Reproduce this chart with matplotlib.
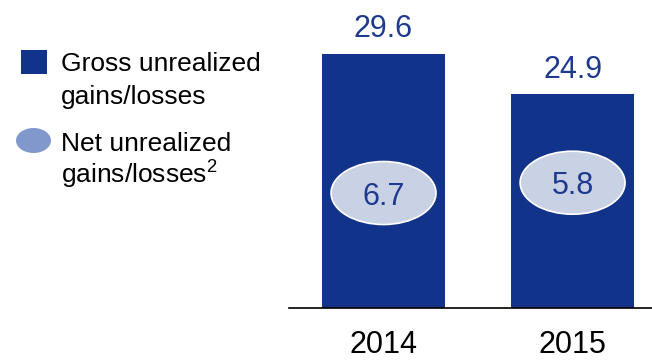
import matplotlib
matplotlib.use("Agg")
import matplotlib.pyplot as plt
from matplotlib.patches import Ellipse, Rectangle

plt.rcParams['font.family'] = ['Liberation Sans', 'DejaVu Sans']
plt.rcParams['mathtext.default'] = 'regular'

years = ['2014', '2015']
gross = [29.6, 24.9]
net = [6.7, 5.8]

bar_color = '#12338A'
text_blue = '#1D3A8F'
badge_fill = '#C9D1E4'
legend_oval = '#8098CC'

W, H = 652, 361
fig = plt.figure(figsize=(W / 100, H / 100), dpi=100)

# plot area: axis line at y=308 px, spans x=289..652 px
ax_bottom = 308
ax = fig.add_axes([289 / W, (H - ax_bottom) / H, (W - 289) / W, ax_bottom / H])
px_per_unit = (ax_bottom - 54) / gross[0]
ax.set_ylim(0, ax_bottom / px_per_unit)
ax.set_xlim(-0.5, 1.42)

x = list(range(len(years)))
ax.bar(x, gross, width=0.65, color=bar_color, edgecolor='none')

for xi, g in zip(x, gross):
    ax.annotate(f'{g:.1f}', (xi, g), xytext=(0, 12), textcoords='offset points',
                ha='center', va='baseline', fontsize=22, color=text_blue)

# oval badges with net values
badge_y = [13.4, 14.6]
for xi, yb, n in zip(x, badge_y, net):
    ax.add_patch(Ellipse((xi, yb), 0.555, 63 / px_per_unit, facecolor=badge_fill,
                         edgecolor='white', linewidth=1.2, zorder=3))
    ax.text(xi, yb, f'{n:.1f}', ha='center', va='center_baseline', fontsize=22,
            color=text_blue, zorder=4)

ax.set_xticks(x)
ax.set_xticklabels(years, fontsize=22)
ax.tick_params(axis='x', length=0, pad=16)
ax.set_yticks([])
for side in ['top', 'left', 'right']:
    ax.spines[side].set_visible(False)
ax.spines['bottom'].set_linewidth(1.2)
ax.spines['bottom'].set_color('black')


def fx(px):
    return px / W


def fy(py):
    return 1 - py / H


# legend
fig.add_artist(Rectangle((fx(21), fy(74)), 26 / W, 24 / H, transform=fig.transFigure,
                         facecolor=bar_color, edgecolor='none'))
fig.add_artist(Ellipse((fx(33.5), fy(140.5)), 35 / W, 25 / H, transform=fig.transFigure,
                       facecolor=legend_oval, edgecolor='none'))
legend_lines = [
    ('Gross unrealized', 71),
    ('gains/losses', 104),
    ('Net unrealized', 151),
    ('gains/losses$^{2}$', 184),
]
for txt, base in legend_lines:
    fig.text(fx(61), fy(base), txt, fontsize=19, color='black', va='baseline', ha='left')

fig.savefig('out.png', dpi=100)
